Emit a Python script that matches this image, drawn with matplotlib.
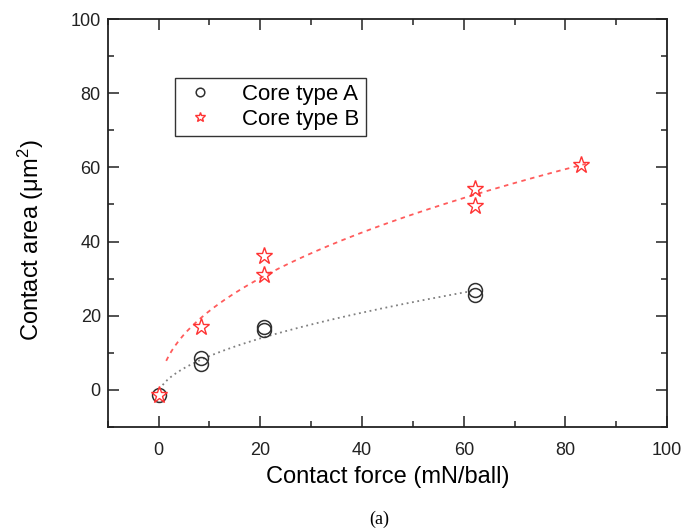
import numpy as np
import matplotlib
matplotlib.use("Agg")
import matplotlib.pyplot as plt
from matplotlib.ticker import MultipleLocator

plt.rcParams.update({"font.family": ["Liberation Sans", "DejaVu Sans"],
                     "mathtext.fontset": "custom", "mathtext.rm": "Liberation Sans",
                     "mathtext.it": "Liberation Sans:italic"})

DARK, RED, GRAY = "#303030", "#ff3333", "#808080"

# measured points (force mN/ball, area um^2)
force_a = [0, 8.3, 8.3, 20.7, 20.7, 62.3, 62.3]
area_a = [-1.3, 8.5, 7.0, 17.0, 16.2, 27.0, 25.5]
force_b = [0, 8.4, 20.7, 20.7, 62.3, 62.3, 83.0]
area_b = [-1.3, 17.0, 36.1, 31.0, 54.2, 49.6, 60.6]

# power-law fit curves  y = k * x**p + c
fit_a = dict(k=3.03, p=0.54, c=-1.4, x0=0.8, x1=61.5)
fit_b = dict(k=7.6, p=0.475, c=-1.4, x0=1.5, x1=84.0)


def curve(f):
    x = np.linspace(f["x0"], f["x1"], 200)
    return x, f["k"] * x ** f["p"] + f["c"]


fig = plt.figure(figsize=(6.95, 5.29), dpi=100)
ax = fig.add_axes([0.155, 0.193, 0.805, 0.771])

xa, ya = curve(fit_a)
ax.plot(xa, ya, color=GRAY, lw=1.3, ls=(0, (1, 2)))
xb, yb = curve(fit_b)
ax.plot(xb, yb, color=RED, lw=1.3, ls=(0, (2.5, 2.5)), alpha=0.8)

ax.plot(force_a, area_a, "o", ms=10, mfc="none", mec=DARK, mew=1.1, ls="none",
        label="Core type A")
ax.plot(force_b, area_b, "*", ms=12.5, mfc="none", mec=RED, mew=1.0, ls="none",
        label="Core type B")

ax.set_xlim(-10, 100)
ax.set_ylim(-10, 100)
ax.xaxis.set_major_locator(MultipleLocator(20))
ax.xaxis.set_minor_locator(MultipleLocator(10))
ax.yaxis.set_major_locator(MultipleLocator(20))
ax.yaxis.set_minor_locator(MultipleLocator(10))
ax.tick_params(which="both", direction="in", top=True, right=True, width=1.1,
               labelsize=13, colors="#222222")
ax.tick_params(axis="x", pad=11)
ax.tick_params(axis="y", pad=5)
ax.tick_params(which="major", length=8)
ax.tick_params(which="minor", length=4)
for s in ax.spines.values():
    s.set_linewidth(1.3)
    s.set_color("#222222")

ax.set_xlabel("Contact force (mN/ball)", fontsize=17, labelpad=5)
ax.set_ylabel("Contact area (μm$^2$)", fontsize=17)
ax.yaxis.set_label_coords(-0.111, 0.458)

leg = ax.legend(loc="upper left", bbox_to_anchor=(0.109, 0.873), fontsize=16,
                markerscale=0.62, handlelength=1.6, handletextpad=1.1,
                borderpad=0.3, borderaxespad=0.3, labelspacing=0.15,
                fancybox=False, edgecolor="#333333", framealpha=1)
leg.get_frame().set_linewidth(1.0)

fig.text(0.545, 0.019, "(a)", family=["Liberation Serif"], fontsize=13,
         ha="center", va="center")

fig.savefig("out.png", dpi=100)
